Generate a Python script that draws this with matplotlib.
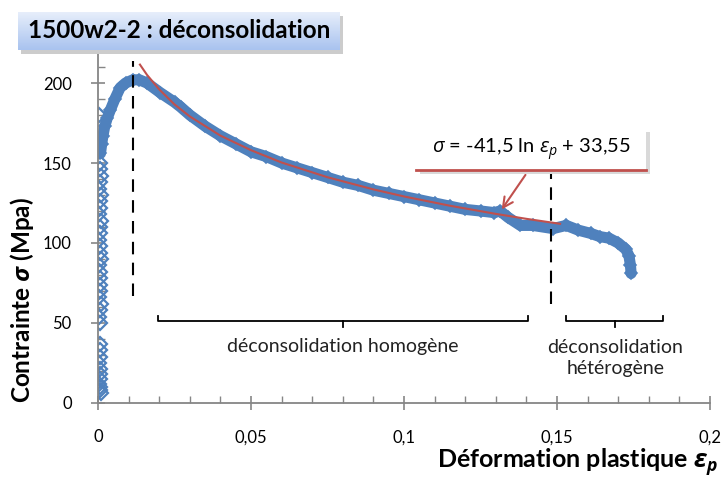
'''
Courbe contrainte - deformation plastique, essai 1500w2-2 (deconsolidation)
'''
import numpy as np
import matplotlib
matplotlib.use('Agg')
import matplotlib.pyplot as plt
from matplotlib.ticker import MultipleLocator, FuncFormatter
from matplotlib.patches import Rectangle

plt.rcParams['font.family'] = ['Lato', 'Open Sans', 'DejaVu Sans']
plt.rcParams['mathtext.fontset'] = 'custom'
plt.rcParams['mathtext.rm'] = 'Open Sans'
plt.rcParams['mathtext.it'] = 'Open Sans:italic'
plt.rcParams['mathtext.bf'] = 'Open Sans:bold'
plt.rcParams['mathtext.bfit'] = 'Open Sans:bold:italic'

# partie elastique (points disperses sur l'axe)
elast_eps = [0.0004, 0.0008, 0.0005, 0.0010, 0.0006, 0.0003, 0.0009, 0.0005, 0.0007, 0.0004,
             0.0010, 0.0006, 0.0008, 0.0003, 0.0007, 0.0005, 0.0009, 0.0004, 0.0006, 0.0008,
             0.0005, 0.0007, 0.0003, 0.0009, 0.0006, 0.0004, 0.0008, 0.0005, 0.0007, 0.0006,
             0.0004, 0.0008, 0.0005, 0.0006, 0.0004, 0.0007, 0.0005, 0.0009]
elast_sig = [180, 150, 146, 142, 138, 134, 130, 126, 122, 118,
             114, 110, 106, 102, 98, 94, 90, 86, 82, 78,
             74, 70, 66, 62, 58, 54, 50, 37, 33, 29,
             25, 21, 18, 15, 12, 10, 8, 6]

# courbe principale
curve_eps = [0.0008, 0.0012, 0.0016, 0.0022, 0.003, 0.004, 0.0055, 0.0072, 0.009, 0.0114,
             0.0135, 0.016, 0.0203, 0.025, 0.027, 0.03, 0.035, 0.04, 0.045, 0.05,
             0.055, 0.06, 0.065, 0.07, 0.075, 0.08, 0.085, 0.09, 0.095, 0.1,
             0.105, 0.11, 0.115, 0.12, 0.125, 0.1295, 0.1314, 0.134, 0.138, 0.142,
             0.1487, 0.153, 0.157, 0.161, 0.164, 0.167, 0.170, 0.1725, 0.1735, 0.174, 0.1742]
curve_sig = [156, 162, 167, 173, 178, 183, 190, 197, 200, 202,
             202, 200, 194, 188, 185, 180, 173, 167, 162, 157,
             154, 150, 147, 144, 141, 138, 136, 133, 131, 129,
             127, 125, 123, 121, 120, 119, 120, 116, 111, 111,
             109, 111, 108, 106, 104, 103, 100, 96, 92, 86, 81]

fit_eps = [0.0137, 0.016, 0.02, 0.025, 0.03, 0.04, 0.05, 0.06, 0.075, 0.09,
           0.1, 0.115, 0.13, 0.14, 0.151]
fit_sig = [211.5, 205.1, 196.0, 186.6, 179.1, 167.1, 158.0, 150.3, 141.1, 133.5,
           129.1, 123.3, 118.2, 115.1, 112.0]

vlines_eps = [0.0114, 0.148]
vlines_sig = [(67, 214), (62, 146)]
brackets = [(0.0196, 0.1405, 0.080), (0.153, 0.1846, 0.169)]
bracket_labels = ['déconsolidation homogène', 'déconsolidation\nhétérogène']
blue = '#4F81BD'
red = '#C0504D'

fig = plt.figure(figsize=(7.24, 4.79), dpi=100)
ax = fig.add_axes([0.1354, 0.1587, 0.8453, 0.7348])

ax.plot(curve_eps, curve_sig, color=blue, lw=8, solid_capstyle='round', zorder=2)
ax.plot(curve_eps, curve_sig, ls='none', marker='D', ms=6, mfc='none', mec=blue, mew=1.2, zorder=2)
ax.plot(elast_eps, elast_sig, ls='none', marker='D', ms=7, mfc='none', mec=blue, mew=1.6, zorder=2)
ax.plot(fit_eps, fit_sig, color=red, lw=1.5, zorder=3)

for e, (s0, s1) in zip(vlines_eps, vlines_sig):
    ax.plot([e, e], [s0, s1], color='black', lw=1.5, ls=(0, (6, 4)), zorder=4)

for (e0, e1, em), lab in zip(brackets, bracket_labels):
    ax.plot([e0, e0, e1, e1], [54.5, 51, 51, 54.5], color='black', lw=1.3)
    ax.plot([em, em], [51, 47.5], color='black', lw=1.3)
    ax.text(em, 35 if '\n' not in lab else 28, lab, ha='center', va='center',
            fontsize=14, color='#222222', linespacing=1.25)

ax.set_xlim(0, 0.2)
ax.set_ylim(0, 220)
ax.xaxis.set_major_locator(MultipleLocator(0.05))
ax.xaxis.set_minor_locator(MultipleLocator(0.01))
ax.yaxis.set_major_locator(MultipleLocator(50))
ax.yaxis.set_minor_locator(MultipleLocator(10))
ax.xaxis.set_major_formatter(FuncFormatter(lambda v, p: ('%g' % round(v, 3)).replace('.', ',')))
for s in ['top', 'right']:
    ax.spines[s].set_visible(False)
for s in ['left', 'bottom']:
    ax.spines[s].set_color('#868686')
    ax.spines[s].set_linewidth(1.3)
ax.tick_params(which='major', direction='inout', length=10, width=1.2, color='#868686',
               labelsize=12, pad=14)
ax.tick_params(which='minor', direction='in', length=5, width=1, color='#868686')
ax.tick_params(axis='y', pad=14)

fig.text(22 / 724, 1 - 300 / 479, r'Contrainte $\mathbfit{\sigma}$ (Mpa)', rotation=90,
         ha='center', va='center', fontsize=17.5, fontweight='bold')
fig.text(0.992, 0.004, r'Déformation plastique $\mathbfit{\varepsilon}_{\mathbfit{p}}$',
         ha='right', va='bottom', fontsize=18, fontweight='bold')

# cadre du titre (degrade bleu)
tx0, ty0, tw, th = 0.0249, 0.8956, 0.4447, 0.0794
fig.patches.append(Rectangle((tx0 + 0.004, ty0 - 0.008), tw, th, transform=fig.transFigure,
                             facecolor='#cccccc', edgecolor='none', zorder=0))
tax = fig.add_axes([tx0, ty0, tw, th])
tax.set_zorder(10)
grad = np.linspace(0, 1, 50).reshape(-1, 1)
tax.imshow(grad, aspect='auto', extent=[0, 1, 0, 1], origin='lower',
           cmap=matplotlib.colors.LinearSegmentedColormap.from_list('t', ['#a9c3ef', '#e8effb']))
tax.set_axis_off()
tax.text(0.5, 0.5, '1500w2-2 : déconsolidation', ha='center', va='center',
         fontsize=17.5, fontweight='bold', transform=tax.transAxes)

# cadre de l'equation
ex0, ey0, ew, eh = 0.5746, 0.645, 0.3177, 0.088
fig.patches.append(Rectangle((ex0 + 0.005, ey0 - 0.008), ew, eh, transform=fig.transFigure,
                             facecolor='#d9d9d9', edgecolor='none', zorder=5))
fig.patches.append(Rectangle((ex0, ey0), ew, eh, transform=fig.transFigure,
                             facecolor='white', edgecolor='none', zorder=5))
fig.lines.append(plt.Line2D([ex0, ex0 + ew], [ey0, ey0], transform=fig.transFigure,
                            color=red, lw=2, zorder=6))
fig.text(ex0 + ew / 2, ey0 + eh / 2, r'$\sigma$ = -41,5 ln $\varepsilon_p$ + 33,55',
         ha='center', va='center', fontsize=14.5, zorder=7)
ax.annotate('', xy=(0.1314, 119.5), xytext=(0.1402, 144),
            arrowprops=dict(arrowstyle='->', color=red, lw=1.5, mutation_scale=18), zorder=6)

fig.savefig('out.png', dpi=100)
